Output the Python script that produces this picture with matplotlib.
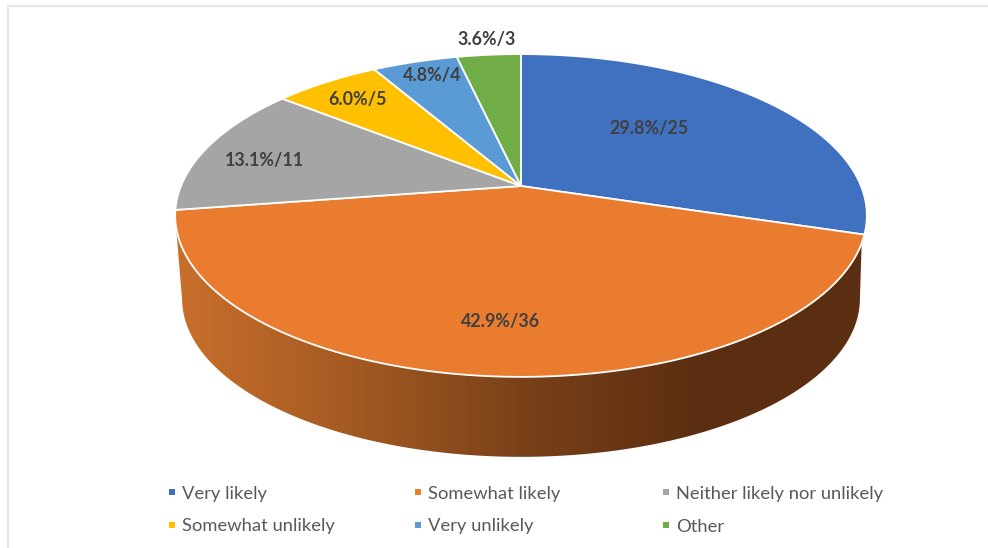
import numpy as np
import matplotlib
matplotlib.use("Agg")
import matplotlib.pyplot as plt
from matplotlib.colors import LinearSegmentedColormap
from matplotlib.patches import Polygon

categories = ["Very likely", "Somewhat likely", "Neither likely nor unlikely",
              "Somewhat unlikely", "Very unlikely", "Other"]
counts = [25, 36, 11, 5, 4, 3]
labels = ["29.8%/25", "42.9%/36", "13.1%/11", "6.0%/5", "4.8%/4", "3.6%/3"]
colors = ["#4070C0", "#EA7C30", "#A5A5A5", "#FFC000", "#5B9BD5", "#70AD47"]

# pixel layout of the picture
W, H = 988, 548
CX, CY = 521, 186
A, B, K = 340, 156, 0.1827   # perspective of the pie disc
DROP, SHRINK = 83.8, 0.98    # bottom rim of the wall
label_xy = [(649, 128.5), (500, 321.5), (264, 160.5), (357, 99), (432, 75), (487, 40)]
legend_x = [172, 418, 666]
legend_y = [492, 525]


def rim(deg, drop=0.0, scale=1.0):
    # point of the tilted disc, deg clockwise from 12 o'clock
    t = np.radians(deg)
    u, v = np.sin(t), np.cos(t)
    d = 1 + K * v
    return np.column_stack((CX + scale * A * u / d, CY + drop - scale * B * v / d))


plt.rcParams["font.family"] = ["Lato", "DejaVu Sans"]
fig = plt.figure(figsize=(W / 100, H / 100), dpi=100)
ax = fig.add_axes([0, 0, 1, 1])
ax.set_xlim(0, W)
ax.set_ylim(H, 0)
ax.axis("off")

# thin frame of the screenshot, left and top only
ax.plot([8, 8, W], [H, 6, 6], color="#E6E6E6", lw=1.6, solid_joinstyle="miter")

edges = np.cumsum([0] + counts) / sum(counts) * 360

# side wall, only the orange slice shows
top_arc = np.linspace(edges[1] + 3, edges[2] - 6, 200)
low_arc = np.linspace(259, 101, 200)
wall = np.vstack((rim(top_arc), rim(low_arc, DROP, SHRINK)))
cmap = LinearSegmentedColormap.from_list("wall", ["#C96F2C", "#A45A22", "#7A4119", "#5C2E11", "#5C2E11"])
grad = ax.imshow(np.linspace(0, 1, 256).reshape(1, -1), extent=(176, 867, 460, 200),
                 cmap=cmap, aspect="auto", zorder=1)
clip = Polygon(wall, closed=True, transform=ax.transData, fc="none", ec="none")
ax.add_patch(clip)
grad.set_clip_path(clip)
ax.set_xlim(0, W)
ax.set_ylim(H, 0)

# top face
for i, c in enumerate(colors):
    pts = np.vstack(([[CX, CY]], rim(np.linspace(edges[i], edges[i + 1], 120))))
    ax.add_patch(Polygon(pts, closed=True, fc=c, ec="white", lw=1.3, joinstyle="round", zorder=2))

for (x, y), s in zip(label_xy, labels):
    ax.text(x, y, s, ha="center", va="center", fontsize=12.9, fontweight="bold", color="#404040", zorder=3)

# legend, filled row by row
for i, name in enumerate(categories):
    x = legend_x[i % 3]
    y = legend_y[i // 3]
    ax.scatter([x], [y], marker="s", s=24, color=colors[i], linewidths=0, zorder=3)
    ax.text(x + 10, y + 1.5, name, ha="left", va="center", fontsize=13.2, color="#595959", zorder=3)

fig.savefig("out.png", dpi=100)
